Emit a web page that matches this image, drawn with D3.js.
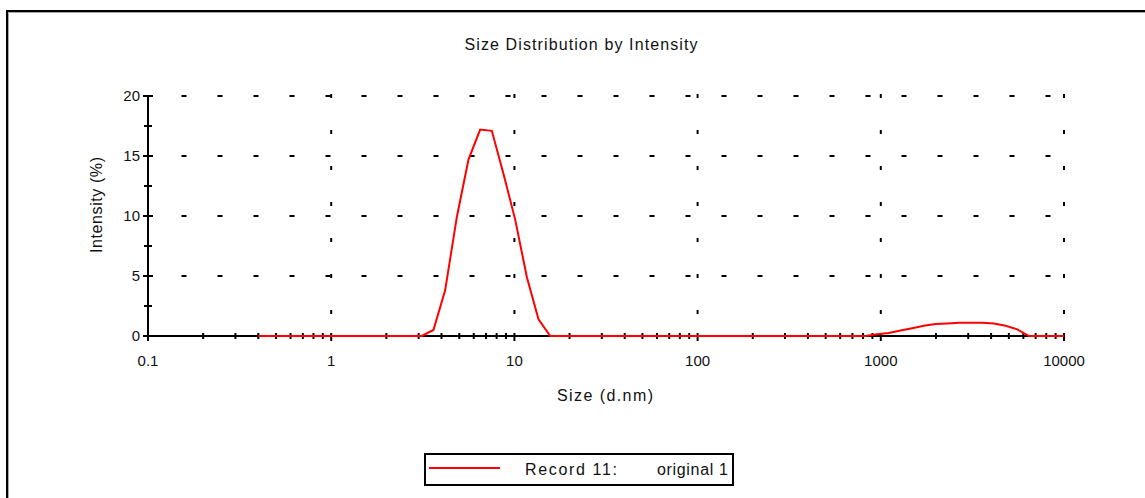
<!DOCTYPE html>
<html>
<head>
<meta charset="utf-8">
<script src="https://cdn.jsdelivr.net/npm/d3@7"></script>
<style>
  body { margin: 0; background: #fff; }
  text { font-family: "Liberation Sans", Arial, sans-serif; fill: #111; }
</style>
</head>
<body>
<svg id="chart" width="1145" height="498"></svg>
<script>
// size classes (d.nm) and intensity (%)
var sizes = [0.4, 0.4632, 0.5365, 0.6213, 0.7195, 0.8332, 0.9649, 1.117, 1.294, 1.499,
  1.736, 2.01, 2.328, 2.696, 3.122, 3.615, 4.187, 4.849, 5.615, 6.503,
  7.531, 8.721, 10.1, 11.7, 13.54, 15.69, 18.17, 21.04, 24.36, 28.21,
  32.67, 37.84, 43.82, 50.75, 58.77, 68.06, 78.82, 91.28, 105.7, 122.4,
  141.8, 164.2, 190.1, 220.2, 255.0, 295.3, 342.0, 396.1, 458.7, 531.2,
  615.1, 712.4, 825.0, 955.4, 1106, 1281, 1484, 1718, 1990, 2305,
  2669, 3091, 3580, 4145, 4801, 5560, 6439, 7456, 8635, 10000];
var intensity = [0, 0, 0, 0, 0, 0, 0, 0, 0, 0,
  0, 0, 0, 0, 0, 0.5, 3.8, 9.9, 14.7, 17.2,
  17.1, 13.5, 9.7, 4.9, 1.4, 0, 0, 0, 0, 0,
  0, 0, 0, 0, 0, 0, 0, 0, 0, 0,
  0, 0, 0, 0, 0, 0, 0, 0, 0, 0,
  0, 0, 0, 0.15, 0.25, 0.45, 0.65, 0.85, 1.0, 1.05,
  1.1, 1.1, 1.1, 1.05, 0.85, 0.55, 0, 0, 0, 0];

var xMajor = [0.1, 1, 10, 100, 1000, 10000];
var xLabels = ["0.1", "1", "10", "100", "1000", "10000"];
var yMajor = [0, 5, 10, 15, 20];
var yMinor = [2.5, 7.5, 12.5, 17.5];
var title = "Size Distribution by Intensity";
var xTitle = "Size (d.nm)";
var yTitle = "Intensity (%)";
var legendName = "Record 11:";
var legendSample = "original 1";

var svg = d3.select("#chart");

var x = d3.scaleLog().domain([0.1, 10000]).range([148, 1064]);
var y = d3.scaleLinear().domain([0, 20]).range([336, 96]);

// outer frame (only top and left edges visible)
svg.append("path").attr("d", "M7,498V11H1145").attr("fill", "none")
  .attr("stroke", "#000").attr("stroke-width", 2);
svg.append("path").attr("d", "M8.5,498V12.5H1145").attr("fill", "none")
  .attr("stroke", "#a8a8a8").attr("stroke-width", 1);

// title
svg.append("text").attr("x", 581).attr("y", 50).attr("text-anchor", "middle")
  .attr("font-size", 16).attr("textLength", 233).attr("lengthAdjust", "spacing")
  .text(title);

// dotted grid: dash period of 3 y-units in both directions
var period = y(0) - y(3);
var grid = svg.append("g").attr("stroke", "#000").attr("stroke-width", 2);
yMajor.slice(1).forEach(function(v) {
  grid.append("line")
    .attr("x1", x(0.1) - 2.5).attr("x2", x(10000))
    .attr("y1", y(v)).attr("y2", y(v))
    .attr("stroke-dasharray", "5," + (period - 5));
});
xMajor.slice(1).forEach(function(v) {
  grid.append("line")
    .attr("x1", x(v)).attr("x2", x(v))
    .attr("y1", y(20) - 2).attr("y2", y(0))
    .attr("stroke-dasharray", "4," + (period - 4));
});

// y axis
var yax = svg.append("g").attr("stroke", "#000");
yax.append("line").attr("x1", x(0.1)).attr("x2", x(0.1))
  .attr("y1", y(20)).attr("y2", y(0)).attr("stroke-width", 2);
yMajor.forEach(function(v) {
  yax.append("line").attr("x1", x(0.1) - 5).attr("x2", x(0.1) + 5)
    .attr("y1", y(v)).attr("y2", y(v)).attr("stroke-width", 2);
});
yMinor.forEach(function(v) {
  yax.append("line").attr("x1", x(0.1) - 4).attr("x2", x(0.1) + 4)
    .attr("y1", y(v)).attr("y2", y(v)).attr("stroke-width", 2);
});
yMajor.forEach(function(v) {
  svg.append("text").attr("x", x(0.1) - 8).attr("y", y(v) + 5)
    .attr("text-anchor", "end").attr("font-size", 15).text(v);
});

// x axis
var xax = svg.append("g").attr("stroke", "#000");
xax.append("line").attr("x1", x(0.1)).attr("x2", x(10000))
  .attr("y1", y(0)).attr("y2", y(0)).attr("stroke-width", 2);
x.ticks().forEach(function(v) {
  var major = xMajor.indexOf(v) >= 0;
  xax.append("line").attr("x1", x(v)).attr("x2", x(v))
    .attr("y1", y(0) - 3).attr("y2", y(0) + (major ? 5 : 3))
    .attr("stroke-width", 2);
});
xMajor.forEach(function(v, i) {
  svg.append("text").attr("x", x(v)).attr("y", 366)
    .attr("text-anchor", "middle").attr("font-size", 15).text(xLabels[i]);
});

// axis titles
svg.append("text").attr("x", 605).attr("y", 401).attr("text-anchor", "middle")
  .attr("font-size", 16).attr("textLength", 96).attr("lengthAdjust", "spacing")
  .text(xTitle);
svg.append("text").attr("transform", "translate(102,205) rotate(-90)")
  .attr("text-anchor", "middle").attr("font-size", 16)
  .attr("textLength", 96).attr("lengthAdjust", "spacing")
  .text(yTitle);

// data line
var line = d3.line()
  .x(function(d, i) { return x(sizes[i]); })
  .y(function(d) { return y(d); });
svg.append("path").datum(intensity)
  .attr("d", line).attr("fill", "none")
  .attr("stroke", "#ff0000").attr("stroke-width", 2);

// legend
var lg = svg.append("g");
lg.append("rect").attr("x", 425).attr("y", 454).attr("width", 308).attr("height", 31)
  .attr("fill", "#fff").attr("stroke", "#000").attr("stroke-width", 2);
lg.append("line").attr("x1", 429).attr("x2", 500).attr("y1", 468).attr("y2", 468)
  .attr("stroke", "#ff0000").attr("stroke-width", 2);
lg.append("text").attr("x", 525).attr("y", 475).attr("font-size", 16)
  .attr("textLength", 92).attr("lengthAdjust", "spacing").text(legendName);
lg.append("text").attr("x", 657).attr("y", 475).attr("font-size", 16)
  .attr("textLength", 71).attr("lengthAdjust", "spacing").text(legendSample);
</script>
</body>
</html>
